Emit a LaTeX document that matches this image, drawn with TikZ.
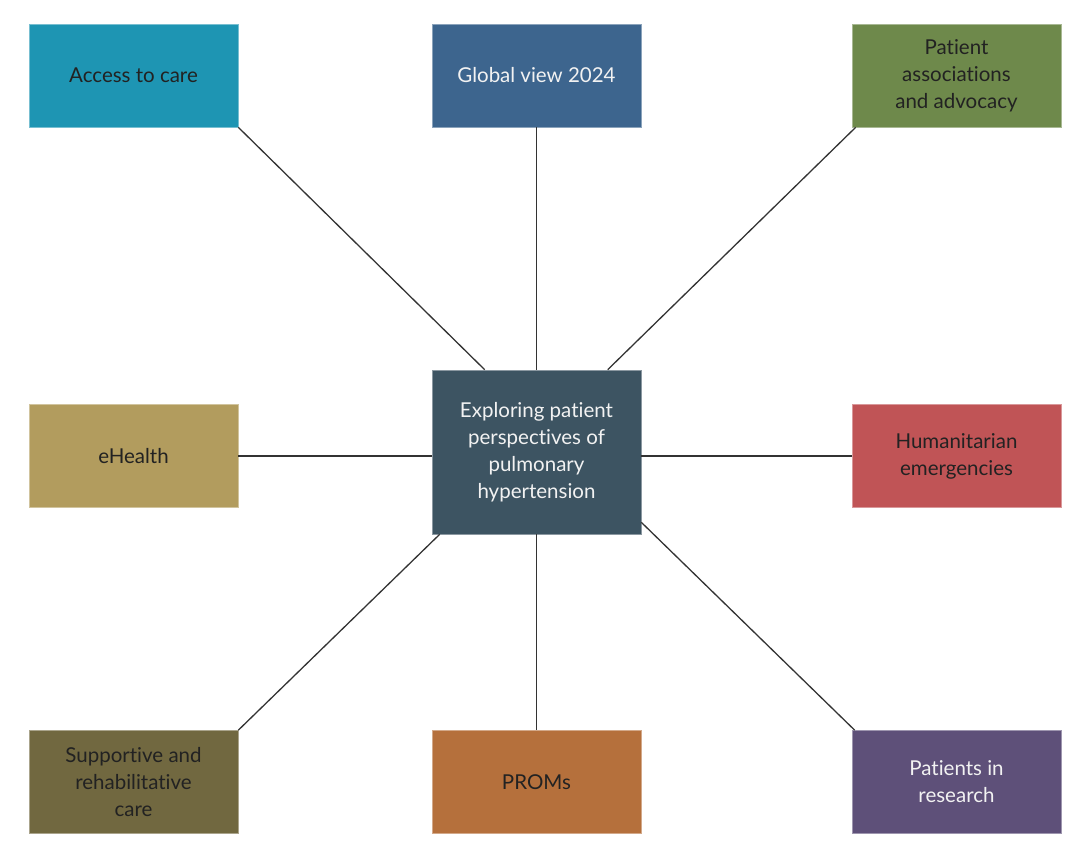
\documentclass[tikz,border=0pt]{standalone}
\usepackage{fontspec}
\setmainfont{Lato}[Ligatures=NoCommon]
\usepackage{xcolor}
\usepackage{tikz}
\usetikzlibrary{positioning,calc}

\definecolor{accessblue}{HTML}{1E95B3}
\definecolor{globalblue}{HTML}{3D658E}
\definecolor{assocgreen}{HTML}{6E894B}
\definecolor{ehealthkhaki}{HTML}{B29C5E}
\definecolor{centreslate}{HTML}{3D5462}
\definecolor{humanred}{HTML}{C05456}
\definecolor{supportolive}{HTML}{716840}
\definecolor{promsorange}{HTML}{B5703C}
\definecolor{researchpurple}{HTML}{5E5079}
\definecolor{darktext}{HTML}{222222}
\definecolor{lighttext}{HTML}{F2F2F2}
\definecolor{linkgray}{HTML}{333333}

\tikzset{
  topic/.style={rectangle, fill=#1, draw=#1!60!white, line width=0.6pt,
    minimum width=209pt, minimum height=103pt, inner sep=0pt,
    align=center, font=\fontsize{20.5}{27}\selectfont, text=darktext},
  centre/.style={topic=centreslate, minimum height=164pt, text=lighttext},
  link/.style={draw=linkgray, line width=1.3pt}
}

\begin{document}
\begin{tikzpicture}[x=1pt,y=-1pt]
  \useasboundingbox (0,0) rectangle (1080,846);
  % centre
  \node[centre] (ctr) at (536.5,452) {Exploring patient\\perspectives of\\pulmonary\\hypertension};
  % top row
  \node[topic=accessblue] (access) at (133.5,75.5) {Access to care};
  \node[topic=globalblue, text=lighttext] (global) at (536.5,75.5) {Global view 2024};
  \node[topic=assocgreen] (assoc) at (956.5,75.5) {Patient\\associations\\and advocacy};
  % middle row
  \node[topic=ehealthkhaki] (ehealth) at (133.5,456) {eHealth};
  \node[topic=humanred] (human) at (956.5,456) {Humanitarian\\emergencies};
  % bottom row
  \node[topic=supportolive] (support) at (133.5,782) {Supportive and\\rehabilitative\\care};
  \node[topic=promsorange] (proms) at (536.5,782) {PROMs};
  \node[topic=researchpurple, text=lighttext] (research) at (956.5,782) {Patients in\\research};
  % links
  \draw[link] (access.south east) -- ($(ctr.north west)+(53,0)$);
  \draw[link] (global) -- (ctr);
  \draw[link] ($(assoc.south west)+(4,0)$) -- ($(ctr.north west)+(176,0)$);
  \draw[link] (ehealth.east) -- (ctr.west |- ehealth.east);
  \draw[link] (ctr.east |- human.west) -- (human.west);
  \draw[link] (support.north east) -- ($(ctr.south west)+(8,0)$);
  \draw[link] (ctr) -- (proms);
  \draw[link] ($(ctr.south east)+(0,-12)$) -- ($(research.north west)+(3,0)$);
\end{tikzpicture}
\end{document}
